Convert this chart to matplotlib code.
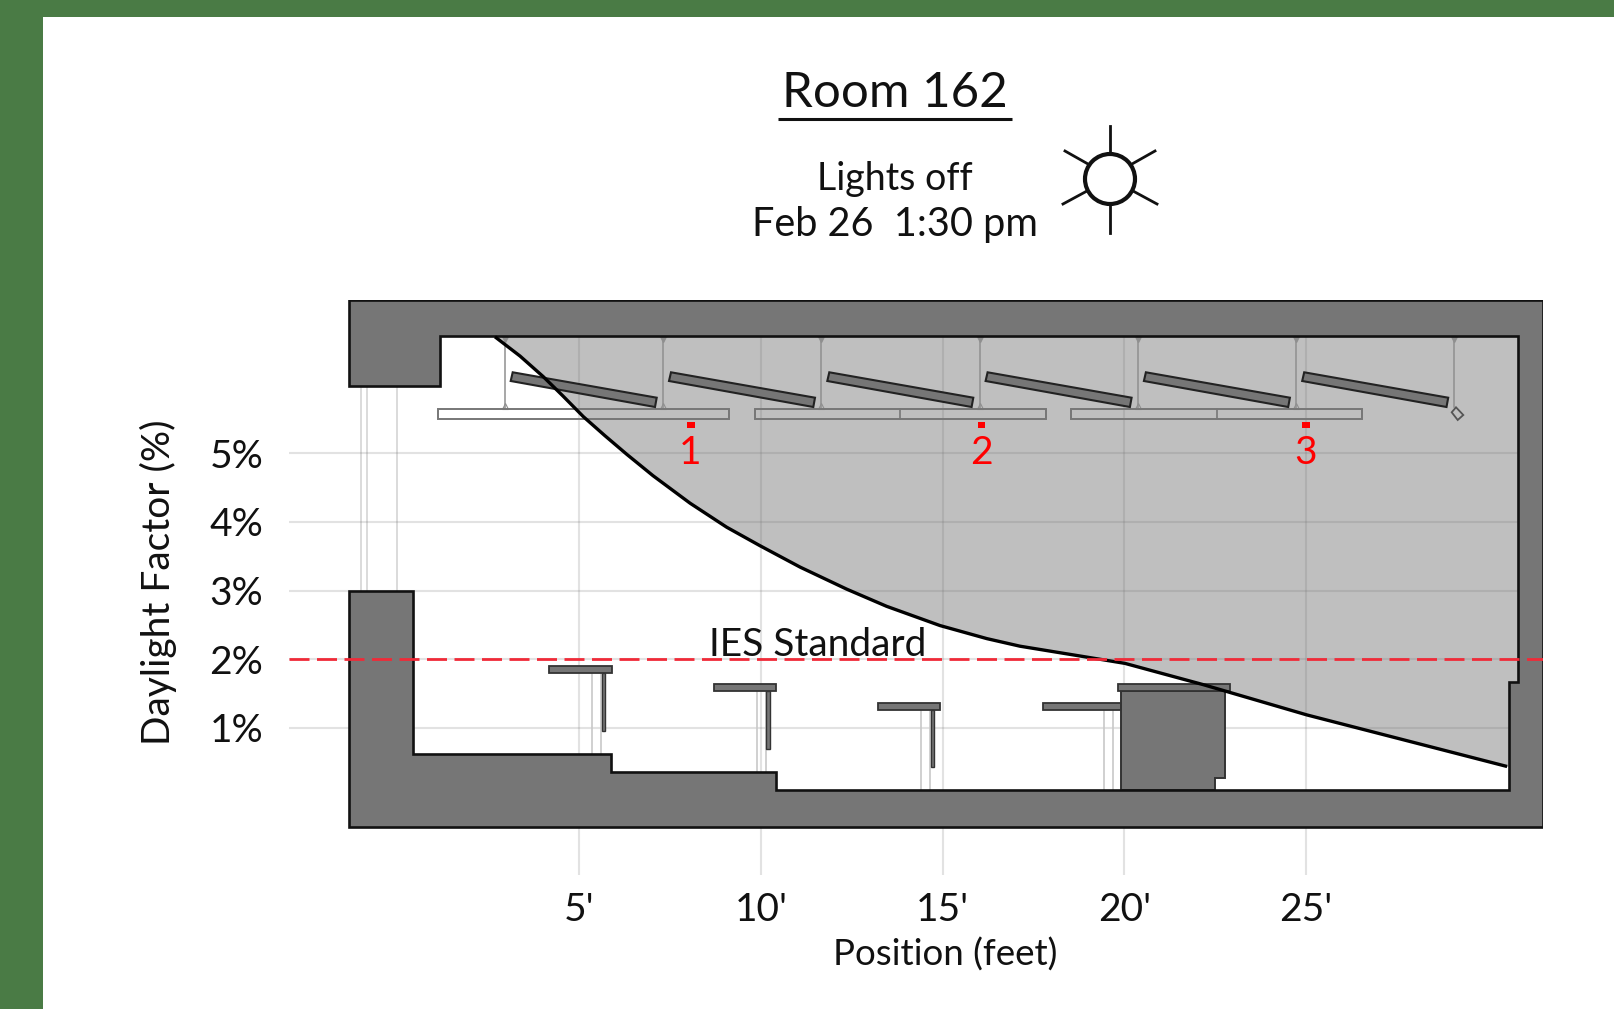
import matplotlib
matplotlib.use("Agg")
import matplotlib.pyplot as plt
from matplotlib.patches import Polygon, Rectangle, Ellipse

plt.rcParams['font.family'] = ['Lato', 'DejaVu Sans']

W, H = 1614, 1009

# daylight factor curve, (feet, percent)
pos_ft = [2.68, 3.37, 4.01, 4.55, 5.11, 5.71, 6.31, 7.03, 8.05, 9.06, 9.98, 11.08, 12.36,
          13.46, 14.93, 16.22, 17.13, 19.33, 20.02, 22.18, 25.03, 30.54]
df_pct = [6.69, 6.41, 6.11, 5.83, 5.53, 5.25, 4.98, 4.67, 4.27, 3.92, 3.65, 3.34, 3.02,
          2.77, 2.49, 2.30, 2.19, 2.00, 1.94, 1.63, 1.19, 0.44]

x_ticks = [5, 10, 15, 20, 25]
x_tick_labels = ["5'", "10'", "15'", "20'", "25'"]
y_ticks = [1, 2, 3, 4, 5]
y_tick_labels = ["1%", "2%", "3%", "4%", "5%"]

ies_standard = 2

# sensor positions along the room
sensor_ft = [8.08, 16.08, 25.0]
sensor_labels = ["1", "2", "3"]

# section drawing, in reference pixels
walls = [(349, 300), (1543, 300), (1543, 827), (349, 827), (349, 591), (413, 591), (413, 754),
         (611, 754), (611, 772), (776, 772), (776, 790), (1509, 790), (1509, 682), (1518, 682),
         (1518, 336), (440, 336), (440, 386), (349, 386)]
cabinet = [(1121, 691), (1225, 691), (1225, 778), (1215, 778), (1215, 790), (1121, 790)]
window_lines = [361, 367, 397]
rods = [505, 663, 821, 980, 1138, 1296, 1454]
lenses = [(438, 729), (755, 1046), (1071, 1362)]
lens_dividers = [900, 1217]
louver = [(512.7, 372.3), (656.7, 397.7), (655, 407), (510.7, 381)]
louver_step = 158.3
desk_left = [549.3, 714, 878.5, 1043]
desk_right = [611.7, 775.7, 940, 1121.4]
desk_top = [666, 684, 702.5, 702.5]
floor_at = [754, 772, 790, 790]


def fx(px):
    return (px - 397.6) / 36.33


def fy(py):
    return (796.75 - py) / 68.75


def pts(p):
    return [(fx(a), fy(b)) for a, b in p]


fig = plt.figure(figsize=(W / 100, H / 100), dpi=100, facecolor='white')
fig.add_artist(Rectangle((0, 1 - 17 / H), 1, 17 / H, transform=fig.transFigure, color='#4a7b45', lw=0))
fig.add_artist(Rectangle((0, 0), 43 / W, 1, transform=fig.transFigure, color='#4a7b45', lw=0))

left, right, top, bottom = 289, 1543, 300, 875
ax = fig.add_axes([left / W, 1 - bottom / H, (right - left) / W, (bottom - top) / H])
ax.set_xlim(fx(left), fx(right))
ax.set_ylim(fy(bottom), fy(top))
for s in ax.spines.values():
    s.set_visible(False)

DARK = '#767676'
EDGE = '#111111'
THIN = '#8f8f8f'

# gray area above the curve, runs on behind the right wall
ax.fill_between(pos_ft + [fx(1522)], df_pct + [df_pct[-1]], fy(336), color='#bfbfbf', lw=0, zorder=1)

# thin lines
for x in window_lines:
    ax.plot([fx(x), fx(x)], [fy(386), fy(591)], color='#d4d4d4', lw=1.2, zorder=2)
for x in rods:
    end = 407 if x == 1454 else 408
    ax.plot([fx(x), fx(x)], [fy(336), fy(end)], color=THIN, lw=1.1, zorder=2)
    ax.plot(fx(x), fy(339), marker='v', ms=4, color=THIN, zorder=2)
    if x != 1454:
        ax.plot(fx(x), fy(406), marker='^', ms=5, mfc='none', mec=THIN, mew=0.8, zorder=2)

# lenses
for a, b in lenses:
    ax.add_patch(Rectangle((fx(a), fy(419)), (b - a) / 36.33, 9.7 / 68.75, fc='none', ec='#777777', lw=1.4, zorder=3))
for x in lens_dividers:
    ax.plot([fx(x), fx(x)], [fy(409), fy(419)], color='#777777', lw=1.2, zorder=3)

# louvers
for i in range(6):
    shifted = [(a + i * louver_step, b) for a, b in louver]
    ax.add_patch(Polygon(pts(shifted), fc=DARK, ec='#222222', lw=1.5, zorder=4))

# last fixture end
ax.add_patch(Polygon(pts([(1456, 407.3), (1463.3, 415), (1457.7, 420), (1451.7, 412.3)]), fc='none', ec='#555555', lw=1.3, zorder=4))

# desks
for i in range(4):
    dl, dr, dt, fl = desk_left[i], desk_right[i], desk_top[i], floor_at[i]
    off = dl + 43 if i < 3 else 1103.6
    ax.plot([fx(off), fx(off)], [fy(dt + 7), fy(fl)], color='#c8c8c8', lw=1.2, zorder=4)
    ax.plot([fx(off + 9), fx(off + 9)], [fy(dt + 7), fy(fl)], color='#c8c8c8', lw=1.2, zorder=4)
    ax.add_patch(Rectangle((fx(dl), fy(dt + 7)), (dr - dl) / 36.33, 7 / 68.75, fc=DARK, ec='#333333', lw=1.3, zorder=5))
    if i < 3:
        ax.add_patch(Rectangle((fx(dl + 52.4), fy(dt + 64.7)), 3.6 / 36.33, 57.7 / 68.75, fc=DARK, ec='#333333', lw=1, zorder=5))

# cabinet and walls
ax.add_patch(Polygon(pts(cabinet), fc=DARK, ec='#333333', lw=1.4, zorder=5))
ax.add_patch(Rectangle((fx(1118), fy(691.3)), 112.4 / 36.33, 7.3 / 68.75, fc=DARK, ec='#333333', lw=1.3, zorder=5))
ax.add_patch(Polygon(pts(walls), fc=DARK, ec=EDGE, lw=1.9, zorder=6, joinstyle='miter'))

# curve, standard, grid
ax.plot(pos_ft, df_pct, color='black', lw=2.4, zorder=7, solid_capstyle='butt', solid_joinstyle='round')
ax.set_axisbelow(False)
ax.set_xticks(x_ticks)
ax.set_xticklabels(x_tick_labels)
ax.set_yticks(y_ticks)
ax.set_yticklabels(y_tick_labels)
ax.grid(True, color='#707070', alpha=0.2, lw=1.5)
for gl in ax.get_xgridlines() + ax.get_ygridlines():
    gl.set_zorder(8)
ax.tick_params(length=0, labelsize=28, labelcolor='#111111')
ax.tick_params(axis='x', pad=12.5)
ax.tick_params(axis='y', pad=18.5)

ax.plot([fx(left), fx(right)], [ies_standard, ies_standard], color='#f02a38', lw=2, zorder=9,
        dashes=(7.2, 2.7), dash_capstyle='butt')
ax.text(fx(818), fy(645), "IES Standard", fontsize=28, color='#111111', ha='center', va='center', zorder=10)

# sensors
for x, s in zip(sensor_ft, sensor_labels):
    ax.add_patch(Rectangle((x - 3.7 / 36.33, fy(428)), 7.4 / 36.33, 6.5 / 68.75, fc='#ff0000', lw=0, zorder=10))
    ax.text(x - 0.02, fy(453), s, fontsize=28, color='#ff0000', ha='center', va='center', zorder=10)

fig.text(945 / W, 1 - 955 / H, "Position (feet)", fontsize=26.5, color='#111111', ha='center', va='center')
fig.text(158 / W, 1 - 582.6 / H, "Daylight Factor (%)", fontsize=28, color='#111111', rotation=90, ha='center', va='center')

# titles
fig.text(895 / W, 1 - 107 / H, "Room 162", fontsize=35.5, color='#111111', ha='center', va='baseline')
fig.add_artist(plt.Line2D([778 / W, 1012 / W], [1 - 119 / H, 1 - 119 / H], color='#111111', lw=2.2, solid_capstyle='butt'))
fig.text(895 / W, 1 - 190 / H, "Lights off", fontsize=27, color='#111111', ha='center', va='baseline')
fig.text(895 / W, 1 - 236 / H, "Feb 26  1:30 pm", fontsize=28.5, color='#111111', ha='center', va='baseline')

# sun
sun_rays = [((1110, 126), (1110, 153)), ((1110, 205), (1110, 233)),
            ((1065, 151), (1088, 164)), ((1155, 151), (1132, 164)),
            ((1063, 204), (1087, 191)), ((1157, 204), (1133, 191))]
for a, b in sun_rays:
    ax.plot([fx(a[0]), fx(b[0])], [fy(a[1]), fy(b[1])], color='#111111', lw=2, clip_on=False, zorder=10)
ax.add_patch(Ellipse((fx(1110), fy(179)), 50 / 36.33, 50 / 68.75, fc='white', ec='#111111', lw=3, clip_on=False, zorder=10))

fig.savefig("out.png", dpi=100)
